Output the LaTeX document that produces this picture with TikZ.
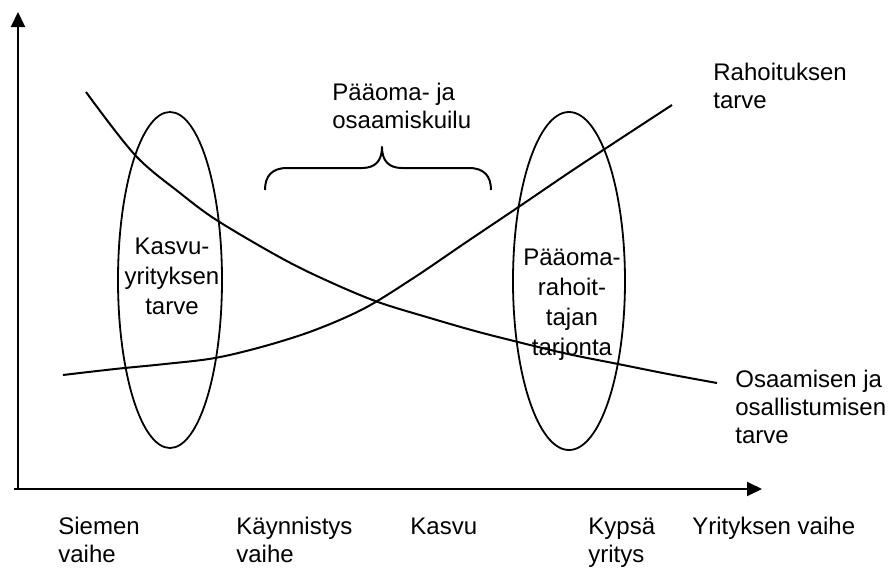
\documentclass[tikz,border=0pt]{standalone}
\usepackage{fontspec}
\setmainfont{Liberation Sans}
\usetikzlibrary{arrows.meta,shapes.geometric}
\begin{document}
\begin{tikzpicture}[x=0.5pt,y=-0.5pt,
  curve/.style={line width=1pt,line join=round},
  axis/.style={line width=1pt,-{Triangle[length=7.5pt,width=7pt]}},
  bubble/.style={draw,ellipse,line width=0.9pt,inner sep=0pt},
  lbl/.style={inner sep=0pt,font=\fontsize{12}{14}\selectfont,align=left,anchor=base west},
  inlbl/.style={inner sep=0pt,font=\fontsize{12}{15}\selectfont,align=center,anchor=base}]
\useasboundingbox (0,0) rectangle (896,568);

% axes
\coordinate (origin) at (18,489);
\coordinate (ytip) at (18,12);
\coordinate (xstart) at (14,489);
\coordinate (xtip) at (762,489);
\draw[axis] (origin) -- (ytip);
\draw[axis] (xstart) -- (xtip);

% the two focus areas
\node[bubble,minimum width=52pt,minimum height=168pt] (seedzone) at (170,280) {};
\node[bubble,minimum width=56pt,minimum height=169pt] (capzone) at (569,281) {};

% financing need (rising) and know-how need (falling)
\draw[curve] plot[smooth,tension=0.55] coordinates
  {(63,375) (115,369) (165,364) (215,358) (265,346) (315,330) (365,308)
   (415,277) (465,243) (520,206) (570,172) (620,139) (672,105)};
\draw[curve] plot[smooth,tension=0.55] coordinates
  {(86,92) (135,155) (180,193) (218,221) (283,259) (330,282) (378,302)
   (430,318) (475,331) (518,342) (568,354) (618,364) (668,374) (717,383)};

% brace over the gap
\draw[curve] (265,190) .. controls (265,176) and (272,168) .. (287,168) -- (362,168)
  .. controls (376,168) and (382,160) .. (382,147)
  .. controls (382,160) and (388,168) .. (402,168) -- (469,168)
  .. controls (484,168) and (491,176) .. (491,190);

% labels (base anchor sits on the last line)
\node[lbl] (gap) at (332,128) {Pääoma- ja\\osaamiskuilu};
\node[lbl] (fin) at (713,108) {Rahoituksen\\tarve};
\node[lbl] (know) at (735,443) {Osaamisen ja\\osallistumisen\\tarve};
\node[inlbl] (need) at (172,314) {Kasvu-\\yrityksen\\tarve};
\node[inlbl] (supply) at (572,355) {Pääoma-\\rahoit-\\tajan\\tarjonta};

% stages along the horizontal axis
\node[lbl] (seed) at (58,562) {Siemen\\vaihe};
\node[lbl] (start) at (236,562) {Käynnistys\\vaihe};
\node[lbl] (growth) at (410,534) {Kasvu};
\node[lbl] (mature) at (588,562) {Kypsä\\yritys};
\node[lbl] (stage) at (692,534) {Yrityksen vaihe};
\end{tikzpicture}
\end{document}
